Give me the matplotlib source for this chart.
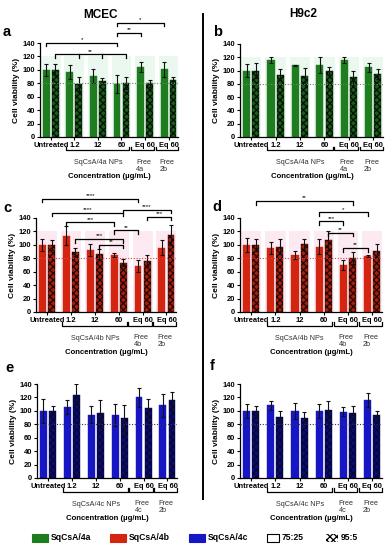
import matplotlib
matplotlib.use('Agg')
import matplotlib.pyplot as plt
import matplotlib.transforms as mtransforms
from matplotlib.patches import Rectangle
from matplotlib.lines import Line2D

plt.rcParams['font.family'] = ['Liberation Sans', 'DejaVu Sans']
plt.rcParams['hatch.linewidth'] = 0.9

W, H = 389, 550

groups = ['Untreated', '1.2', '12', '60', 'Eq 60', 'Eq 60']

# panel values: mean / error for 75:25 (solid) and 95:5 (checkered)
a_m75 = [100, 97, 91, 79.5, 104, 101]
a_e75 = [9, 10, 11, 13.5, 7, 11]
a_m95 = [100, 79.5, 84, 80, 80, 85]
a_e95 = [8, 10.5, 4, 9, 5, 4]

b_m75 = [100, 116, 108, 109, 116, 105]
b_e75 = [10, 5, 1, 12, 5, 7]
b_m95 = [100, 94, 92, 99, 90, 95]
b_e95 = [11, 8, 12, 6, 10, 8]

c_m75 = [100, 113.5, 92.5, 85, 68.5, 96]
c_e75 = [8.5, 14, 9, 3.5, 9, 11.5]
c_m95 = [100, 90, 86.5, 73.5, 76.5, 115]
c_e95 = [7.5, 6, 7, 5, 8.5, 15]

d_m75 = [100, 95, 85, 97.5, 70, 83.5]
d_e75 = [10, 9, 6.5, 11, 7.5, 1]
d_m95 = [100, 97.5, 101, 106.5, 80, 91]
d_e95 = [9, 11, 8, 13.5, 9, 10]

e_m75 = [100, 106, 94, 94, 120, 108]
e_e75 = [17.5, 10, 12.5, 16, 14, 17]
e_m95 = [100, 124, 97, 89, 104, 115.5]
e_e95 = [7.5, 16, 19.5, 20, 14, 12.5]

f_m75 = [100, 108, 100, 100, 99, 116]
f_e75 = [10, 7, 11.5, 10, 6.5, 10.5]
f_m95 = [100, 91, 90, 101.5, 96.5, 94]
f_e95 = [7.5, 9, 8, 13.5, 10, 6]

# significance brackets: (group1, bar1, group2, bar2, height, label, extra drops)
a_sig = [(0, 0, 3, 0, 140, '*', []),
         (0, 1, 3, 1, 123, '**', [(1, 1), (2, 1)]),
         (3, 0, 4, 0, 155, '**', []),
         (3, 0, 5, 0, 170, '*', [])]
b_sig = []
c_sig = [(0, 0, 4, 0, 168.5, '****', []),
         (0, 1, 3, 1, 147.5, '****', []),
         (3, 1, 5, 1, 152.5, '****', []),
         (4, 1, 5, 1, 141.5, '***', []),
         (1, 0, 3, 0, 133.5, '***', []),
         (3, 0, 4, 0, 121.5, '**', []),
         (1, 1, 3, 1, 108.5, '***', []),
         (2, 1, 3, 1, 100, '**', [])]
d_sig = [(0, 1, 4, 1, 165, '**', []),
         (3, 0, 5, 0, 148.5, '*', []),
         (3, 0, 4, 0, 135, '***', []),
         (3, 1, 4, 1, 117.5, '**', []),
         (4, 0, 5, 0, 95, '**', [])]
e_sig = []
f_sig = []

green = ('#1e7d1e', '#1a5c1a', '#031003', '#eaf8ef', '#6a8a6a')
red = ('#d42510', '#a81e0c', '#220602', '#fde9f1', '#d84848')
blue = ('#1616c4', '#0c0c70', '#05053a', None, '#333355')

OFF = 0.19
BW = 0.29

fig = plt.figure(figsize=(W / 100, H / 100), dpi=100)


def px_axes(l, t, r, b):
    return fig.add_axes([l / W, 1 - b / H, (r - l) / W, (b - t) / H])


def xpos(g, b):
    return g + (b - 0.5) * 2 * OFF


def panel(ax, m75, e75, m95, e95, colors, sig, drug):
    c1, c2, hc, tint, dotc = colors
    x = list(range(len(groups)))
    if tint:
        for g in x:
            ax.add_patch(Rectangle((g - 0.42, 0), 0.84, 120, color=tint, lw=0, zorder=0))
    ax.bar([xpos(g, 0) for g in x], m75, BW, color=c1, edgecolor=c1, lw=0.3, zorder=2)
    ax.bar([xpos(g, 1) for g in x], m95, BW, facecolor=c2, edgecolor=hc, hatch='xxxxx', lw=0.3, zorder=2)
    ax.errorbar([xpos(g, 0) for g in x], m75, yerr=e75, fmt='none', ecolor='#111111',
                elinewidth=0.8, capsize=1.6, capthick=0.8, zorder=3)
    ax.errorbar([xpos(g, 1) for g in x], m95, yerr=e95, fmt='none', ecolor='#111111',
                elinewidth=0.8, capsize=1.6, capthick=0.8, zorder=3)
    ax.axhline(80, color=dotc, ls=(0, (1, 1.5)), lw=0.8, zorder=4)
    ax.set_xlim(-0.46, 5.4)
    ax.set_ylim(0, 140)
    ax.set_yticks(range(0, 141, 20))
    ax.set_xticks(x)
    ax.set_xticklabels(groups)
    for lab in ax.get_xticklabels() + ax.get_yticklabels():
        lab.set_fontsize(5.4)
        lab.set_fontweight('bold')
    ax.tick_params(length=2.2, width=0.8, pad=1.2)
    for s in ('top', 'right'):
        ax.spines[s].set_visible(False)
    for s in ('left', 'bottom'):
        ax.spines[s].set_linewidth(0.9)
    ax.set_ylabel('Cell viability (%)', fontsize=6, fontweight='bold', labelpad=2)

    # significance brackets
    for g1, b1, g2, b2, y, lab, mids in sig:
        x1, x2 = xpos(g1, b1), xpos(g2, b2)
        ax.plot([x1, x1, x2, x2], [y - 5, y, y, y - 5], color='k', lw=0.9,
                clip_on=False, zorder=5)
        for gm, bm in mids:
            xm = xpos(gm, bm)
            ax.plot([xm, xm], [y, y - 5], color='k', lw=0.9, clip_on=False, zorder=5)
        ax.text((x1 + x2) / 2, y + 1, lab, ha='center', va='bottom', fontsize=4.5,
                clip_on=False)

    # group brackets under the tick labels
    hpx = ax.get_position().height * H
    tr = mtransforms.blended_transform_factory(ax.transData, ax.transAxes)
    yb = -13.5 / hpx
    yt = -10 / hpx
    for xa, xb in [(0.64, 3.34), (3.4, 4.38), (4.45, 5.4)]:
        ax.add_line(Line2D([xa, xa, xb, xb], [yt, yb, yb, yt], transform=tr,
                           color='k', lw=0.9, clip_on=False))
    ax.text(2.0, -26 / hpx, 'SqCsA/%s NPs' % drug, transform=tr, ha='center',
            va='center', fontsize=5.2, color='#333333')
    ax.text(3.62, -22 / hpx, 'Free\n%s' % drug, transform=tr, ha='left', va='top',
            fontsize=5.2, linespacing=1.05, color='#333333')
    ax.text(4.62, -22 / hpx, 'Free\n2b', transform=tr, ha='left', va='top',
            fontsize=5.2, linespacing=1.05, color='#333333')
    ax.text(2.5, -40 / hpx, 'Concentration (µg/mL)', transform=tr, ha='center',
            va='center', fontsize=5.6, fontweight='bold')


ax_a = px_axes(40, 43, 178, 137)
ax_b = px_axes(240, 44, 383, 137)
ax_c = px_axes(36, 218, 176, 312)
ax_d = px_axes(240, 218, 382, 312)
ax_e = px_axes(37, 384, 177, 478)
ax_f = px_axes(240, 384, 382, 478)

panel(ax_a, a_m75, a_e75, a_m95, a_e95, green, a_sig, '4a')
panel(ax_b, b_m75, b_e75, b_m95, b_e95, green, b_sig, '4a')
panel(ax_c, c_m75, c_e75, c_m95, c_e95, red, c_sig, '4b')
panel(ax_d, d_m75, d_e75, d_m95, d_e95, red, d_sig, '4b')
panel(ax_e, e_m75, e_e75, e_m95, e_e95, blue, e_sig, '4c')
panel(ax_f, f_m75, f_e75, f_m95, f_e95, blue, f_sig, '4c')


def ftext(x, y, s, **kw):
    fig.text(x / W, 1 - y / H, s, **kw)


ftext(100, 15, 'MCEC', ha='center', va='center', fontsize=8.5, fontweight='bold')
ftext(303, 14, 'H9c2', ha='center', va='center', fontsize=8.5, fontweight='bold')
for lx, ly, lab in [(3, 36, 'a'), (213, 36, 'b'), (3, 212, 'c'), (212, 211, 'd'),
                    (5, 372, 'e'), (210, 370, 'f')]:
    ftext(lx, ly, lab, ha='left', va='baseline', fontsize=10.5, fontweight='bold')

# divider between the two cell lines
fig.add_artist(Line2D([203 / W, 203 / W], [1 - 14 / H, 1 - 499 / H], color='k', lw=1.4))

# legend
leg = [(32, 'SqCsA/4a', dict(facecolor='#1e7d1e', edgecolor='#1e7d1e', lw=0.8)),
       (110, 'SqCsA/4b', dict(facecolor='#d42510', edgecolor='#d42510', lw=0.8)),
       (189, 'SqCsA/4c', dict(facecolor='#1616c4', edgecolor='#1616c4', lw=0.8)),
       (267, '75:25', dict(facecolor='white', edgecolor='k', lw=0.8)),
       (326, '95:5', dict(facecolor='white', edgecolor='k', hatch='xxxxx', lw=0))]
for lx, lab, kw in leg:
    wpx = 16 if lx < 260 else 12
    fig.add_artist(Rectangle((lx / W, 1 - 542 / H), wpx / W, 8 / H, **kw))
    ftext(lx + wpx + 2.5, 538, lab, ha='left', va='center', fontsize=6.2, fontweight='bold')

fig.savefig('out.png', dpi=100)
